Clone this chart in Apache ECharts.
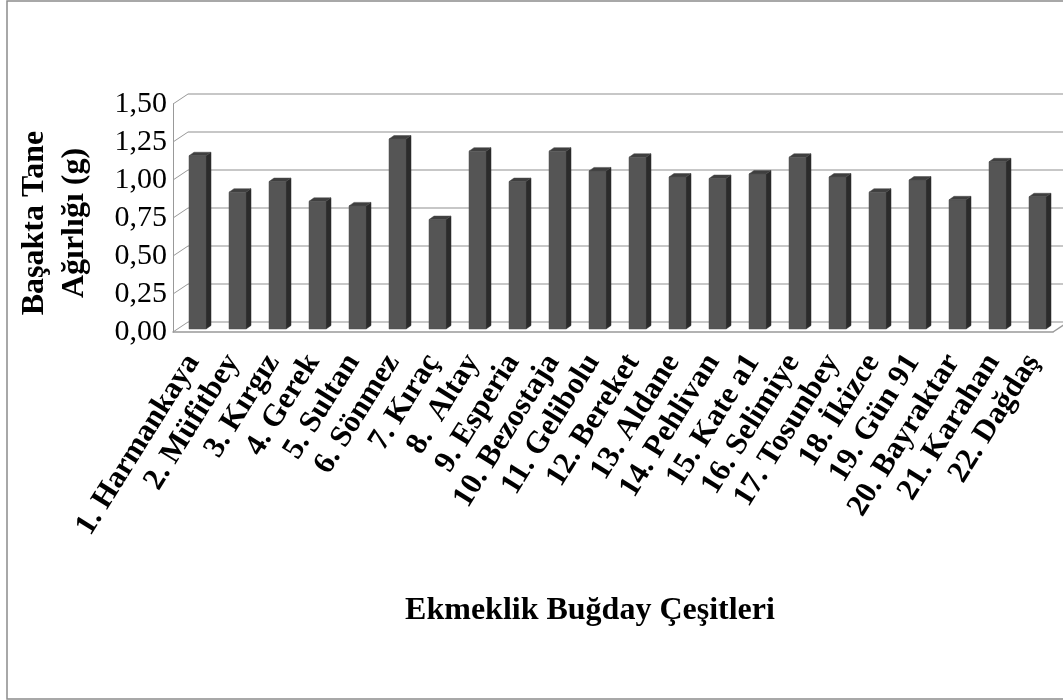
<!DOCTYPE html>
<html>
<head>
<meta charset="utf-8">
<script src="https://cdn.jsdelivr.net/npm/echarts@6/dist/echarts.min.js"></script>
<style>
html,body{margin:0;padding:0;background:#fff;}
#chart{width:1063px;height:700px;}
</style>
</head>
<body>
<div id="chart"></div>
<script>
const categories = ['1. Harmankaya','2. Müfitbey','3. Kırgız','4. Gerek','5. Sultan','6. Sönmez','7. Kıraç','8.  Altay','9. Esperia','10. Bezostaja','11. Gelibolu','12. Bereket','13. Aldane','14. Pehlivan','15. Kate a1','16. Selimiye','17. Tosunbey','18. İkizce','19. Gün 91','20. Bayraktar','21. Karahan','22. Dağdaş'];
const values = [1.14,0.90,0.97,0.84,0.81,1.25,0.72,1.17,0.97,1.17,1.04,1.13,1.00,0.99,1.02,1.13,1.00,0.90,0.98,0.85,1.10,0.87];
const yTicks = [0,0.25,0.5,0.75,1.0,1.25,1.5];
const yTitle = 'Başakta Tane\nAğırlığı (g)';
const xTitle = 'Ekmeklik Buğday Çeşitleri';

const FONT = "'Liberation Serif','Times New Roman',serif";
const DX = 15, DY = 10;      // depth of the 3D floor
const BDX = 4.5, BDY = 3;    // bar plane offset
const BW = 17, SX = 5, SY = 3.5; // bar face width and bar depth

const chart = echarts.init(document.getElementById('chart'), null, {renderer:'canvas'});
const fmt = v => v.toFixed(2).replace('.', ',');

chart.setOption({
  backgroundColor:'#ffffff',
  animation:false,
  grid:[
    {left:173, top:104, width:880, height:228},
    {left:173+DX, top:104-DY, width:900, height:228}
  ],
  xAxis:[
    {type:'category', gridIndex:0, data:categories,
     axisLine:{show:true, lineStyle:{color:'#999', width:1.5}},
     axisTick:{show:false},
     axisLabel:{rotate:58, interval:0, margin:25, fontFamily:FONT, fontWeight:'bold', fontSize:31, color:'#000'}},
    {type:'category', gridIndex:1, data:categories, show:false}
  ],
  yAxis:[
    {type:'value', gridIndex:0, min:0, max:1.5, interval:0.25,
     axisLine:{show:true, lineStyle:{color:'#999', width:1}},
     axisTick:{show:false}, splitLine:{show:false},
     axisLabel:{margin:6, fontFamily:FONT, fontSize:30, color:'#000', formatter:fmt}},
    {type:'value', gridIndex:1, min:0, max:1.5, interval:0.25,
     axisLine:{show:false}, axisTick:{show:false}, axisLabel:{show:false},
     splitLine:{show:true, lineStyle:{color:'#b4b4b4', width:1.5}}}
  ],
  series:[
    {
      type:'custom', xAxisIndex:0, yAxisIndex:0,
      data: yTicks.map(v => [0, v]),
      renderItem:function(params, api){
        const v = api.value(1);
        const p = api.coord([0, v]);
        const half = api.size([1,0])[0]/2;
        const x0 = p[0]-half;
        const children = [{type:'line', shape:{x1:x0, y1:p[1], x2:x0+DX, y2:p[1]-DY},
          style:{stroke:'#999', lineWidth:1}}];
        if (v === 0) {
          const xr = api.coord([categories.length-1, 0])[0]+half;
          children.push({type:'line', shape:{x1:xr, y1:p[1], x2:xr+DX, y2:p[1]-DY},
            style:{stroke:'#999', lineWidth:1.5}});
        }
        return {type:'group', children:children};
      },
      silent:true, z:1
    },
    {
      type:'custom', xAxisIndex:0, yAxisIndex:0,
      data: values.map((v,i) => [i, v]),
      renderItem:function(params, api){
        const i = api.value(0), v = api.value(1);
        const top = api.coord([i, v]);
        const bot = api.coord([i, 0]);
        const cx = top[0]+BDX;
        const ty = top[1]-BDY, by = bot[1]-BDY;
        const l = cx-BW/2, r = cx+BW/2;
        return {type:'group', children:[
          {type:'polygon', shape:{points:[[r,ty],[r+SX,ty-SY],[r+SX,by-SY],[r,by]]},
           style:{fill:'#2b2b2b', stroke:'#2b2b2b', lineWidth:0.5}},
          {type:'polygon', shape:{points:[[l,ty],[r,ty],[r+SX,ty-SY],[l+SX,ty-SY]]},
           style:{fill:'#3f3f3f', stroke:'#4a4a4a', lineWidth:0.5}},
          {type:'rect', shape:{x:l, y:ty, width:BW, height:by-ty},
           style:{fill:'#555555', stroke:'#4d4d4d', lineWidth:0.5}}
        ]};
      },
      z:2
    }
  ],
  graphic:[
    {type:'rect', shape:{x:7, y:1, width:1080, height:698}, style:{fill:null, stroke:'#8c8c8c', lineWidth:1.5}, silent:true},
    {type:'text', x:55, y:223, rotation:Math.PI/2,
     style:{text:yTitle, font:"bold 32px 'Liberation Serif','Times New Roman',serif", fill:'#000',
            textAlign:'center', textVerticalAlign:'middle', lineHeight:40}},
    {type:'text', x:590, y:611,
     style:{text:xTitle, font:"bold 32px 'Liberation Serif','Times New Roman',serif", fill:'#000',
            textAlign:'center', textVerticalAlign:'middle'}}
  ]
});
</script>
</body>
</html>
